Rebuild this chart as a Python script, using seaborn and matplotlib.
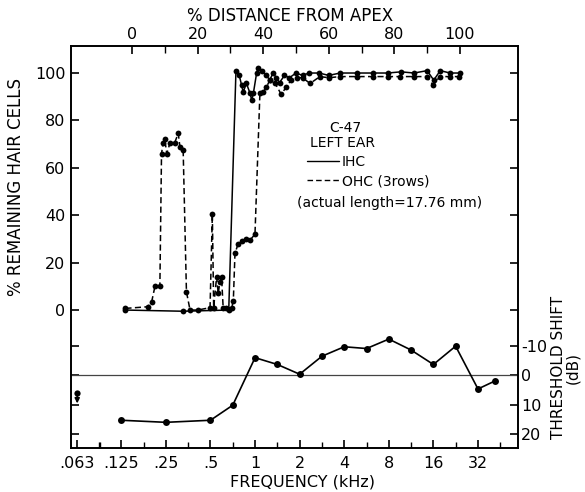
import matplotlib
matplotlib.use("Agg")
import matplotlib.pyplot as plt
from matplotlib.lines import Line2D
from matplotlib.ticker import FixedLocator, NullFormatter
import seaborn as sns
import pandas as pd

# ---- data ----
ihc_dist = [-2, 15.5, 29.5, 31.7, 32.7, 33.4, 33.9, 34.9, 36.0, 36.5, 37.0, 38.0, 38.5, 39.5,
            41, 42, 43, 44, 45, 46.5, 48, 50, 52, 54, 57, 60, 63.5, 68.5, 73.5, 78, 82, 86,
            90, 92, 94, 97, 100]
ihc_val = [0, -0.5, 0, 101, 99, 95, 92, 95.6, 91.4, 88.6, 91.4, 100, 102, 101,
           99, 97, 100, 98, 96, 99, 98, 100, 99, 100, 100, 99, 100, 100, 100, 100, 100.5, 100,
           101, 97, 101, 100, 100]

ohc_dist = [-2, 4.9, 6, 7, 8.5, 9, 9.5, 10, 10.6, 11.6, 13, 14.1, 14.6, 15.6, 16.6, 17.7, 20,
            23.8, 24.5, 24.9, 25.8, 26.3, 26.8, 27.3, 27.8, 28.8, 30.4, 30.9, 31.4, 32.4, 33.4,
            34.9, 36.0, 37.5, 39.0, 40, 41, 42, 43.5, 45.5, 47, 48.5, 50.2, 52, 54.3, 57.3, 60,
            63.4, 68.5, 73.5, 78, 81.7, 86, 89.8, 91.8, 93.9, 97, 99.7]
ohc_val = [0.7, 1.4, 3.5, 10, 10, 66, 70.5, 72, 66, 70.5, 70.5, 74.6, 69, 67.5, 7.7, 0, 0,
           1, 40.5, 1, 14, 7, 12, 14, 1, 1, 1, 4, 24, 28, 29,
           30, 29.5, 32, 91.4, 92, 94, 97, 96, 91, 94, 97, 98, 98, 95.6, 98.5, 98,
           98.5, 98.5, 98.5, 98.5, 98.5, 98.5, 98.5, 95, 98.5, 98.5, 98.5]

freq_khz = [0.125, 0.25, 0.5, 0.707, 1, 1.414, 2, 2.83, 4, 5.66, 8, 11.3, 16, 22.6, 32, 42]
shift_db = [15.3, 16, 15.3, 10.2, -5.9, -3.6, -0.3, -6.4, -9.6, -9, -12.2, -8.5, -3.6, -9.8, 4.7, 1.9]

low_freq = 0.063
low_shift_dot = 6.1
low_shift_arrow = 9.6

freq_ticks = [0.063, 0.125, 0.25, 0.5, 1, 2, 4, 8, 16, 32]
freq_labels = [".063", ".125", ".25", ".5", "1", "2", "4", "8", "16", "32"]
dist_ticks = [0, 20, 40, 60, 80, 100]
hair_ticks = [0, 20, 40, 60, 80, 100]
shift_ticks = [-10, 0, 10, 20]
shift_labels = ["-10", "0", "10", "20"]

# ---- style ----
sns.set_style("ticks")
plt.rcParams["font.family"] = ["DejaVu Sans"]
plt.rcParams["axes.linewidth"] = 1.4
for key in ["text.color", "axes.labelcolor", "xtick.color", "ytick.color",
            "xtick.labelcolor", "ytick.labelcolor", "axes.edgecolor"]:
    plt.rcParams[key] = "black"

fig = plt.figure(figsize=(5.85, 4.92), dpi=100)
rect = [71 / 585, 1 - 448 / 492, (518 - 71) / 585, (448 - 46) / 492]
ax = fig.add_axes(rect)                 # threshold: bottom x, right y
ax2 = fig.add_axes(rect, label="hair")  # hair cells: top x, left y
ax2.patch.set_visible(False)
for s in ax2.spines.values():
    s.set_visible(False)

# ---- threshold panel ----
ax.set_xscale("log", base=2)
ax.set_xlim(0.0572, 59.6)
ax.set_ylim(24.7, -111.5)
ax.axhline(0, color="#444444", lw=0.9, zorder=1)
thr = pd.DataFrame({"freq": freq_khz, "shift": shift_db})
sns.lineplot(data=thr, x="freq", y="shift", ax=ax, color="black", lw=1.2,
             marker="o", markersize=5, markeredgewidth=0, estimator=None, sort=False)
ax.plot([low_freq], [low_shift_dot], "o", color="black", ms=4.5, mew=0)
ax.annotate("", xy=(low_freq, low_shift_arrow), xytext=(low_freq, low_shift_dot),
            arrowprops=dict(arrowstyle="-|>", color="black", lw=1.2, mutation_scale=7,
                            shrinkA=0, shrinkB=0))

ax.xaxis.set_major_locator(FixedLocator(freq_ticks))
ax.set_xticklabels(freq_labels)
minor_f = [f * 1.41421356 for f in freq_ticks] + [0.088]
ax.xaxis.set_minor_locator(FixedLocator(minor_f))
ax.xaxis.set_minor_formatter(NullFormatter())
ax.set_yticks(shift_ticks)
ax.set_yticklabels(shift_labels)
ax.yaxis.set_minor_locator(FixedLocator([]))
ax.tick_params(axis="x", which="major", direction="in", length=6, width=1.2,
               bottom=True, top=False, labelbottom=True, labeltop=False, pad=6, labelsize=11.5)
ax.tick_params(axis="x", which="minor", direction="in", length=4, width=1.0,
               bottom=True, top=False)
ax.tick_params(axis="y", which="major", direction="in", length=6, width=1.2,
               left=True, right=True, labelleft=False, labelright=True, pad=2, labelsize=11.5)
ax.set_xlabel("FREQUENCY (kHz)", fontsize=11.5)
ax.xaxis.set_label_coords(0.517, -0.066)
ax.xaxis.label.set_verticalalignment("top")
ax.yaxis.set_label_position("right")
ax.set_ylabel("THRESHOLD SHIFT\n(dB)", fontsize=11, multialignment="center", linespacing=1.0)
ax.yaxis.set_label_coords(1.073, 0.2)
for s in ax.spines.values():
    s.set_visible(True)
    s.set_linewidth(1.4)
    s.set_color("black")

# ---- hair cell panel ----
ihc = pd.DataFrame({"dist": ihc_dist, "val": ihc_val})
ohc = pd.DataFrame({"dist": ohc_dist, "val": ohc_val})
sns.lineplot(data=ihc, x="dist", y="val", ax=ax2, color="black", lw=1.1,
             marker="o", markersize=4.2, markeredgewidth=0, estimator=None, sort=False)
sns.lineplot(data=ohc, x="dist", y="val", ax=ax2, color="black", lw=1.1,
             marker="o", markersize=4.2, markeredgewidth=0, estimator=None, sort=False,
             dashes=False, linestyle=(0, (4, 2.2)))
ax2.set_xlim(-18.6, 117.7)
ax2.set_ylim(-58.2, 111.4)
ax2.xaxis.set_label_position("top")
ax2.xaxis.tick_top()
ax2.set_xticks(dist_ticks)
ax2.xaxis.set_minor_locator(FixedLocator([10, 30, 50, 70, 90]))
ax2.set_yticks(hair_ticks)
ax2.yaxis.set_minor_locator(FixedLocator([]))
ax2.tick_params(axis="x", which="major", direction="in", length=6, width=1.2,
                top=True, bottom=False, labeltop=True, labelbottom=False, pad=3, labelsize=11.5)
ax2.tick_params(axis="x", which="minor", direction="in", length=5, width=1.0,
                top=True, bottom=False)
ax2.tick_params(axis="y", which="major", direction="in", length=6, width=1.2,
                left=True, right=True, labelleft=True, labelright=False, pad=4, labelsize=11.5)
ax2.set_xlabel("% DISTANCE FROM APEX", fontsize=12)
ax2.xaxis.set_label_coords(0.49, 1.062)
ax2.set_ylabel("% REMAINING HAIR CELLS", fontsize=12)
ax2.yaxis.set_label_coords(-0.103, 0.649)

# legend / annotation block
ax2.text(0.613, 0.796, "C-47", transform=ax2.transAxes, fontsize=10, ha="center", va="center")
ax2.text(0.535, 0.759, "LEFT EAR", transform=ax2.transAxes, fontsize=10, ha="left", va="center")
handles = [Line2D([], [], color="black", lw=1.0),
           Line2D([], [], color="black", lw=1.0, linestyle=(0, (4, 2.2)))]
ax2.legend(handles, ["IHC", "OHC (3rows)"], loc="upper left", bbox_to_anchor=(0.528, 0.728),
           frameon=False, fontsize=10, handlelength=2.3, handletextpad=0.2,
           labelspacing=0.35, borderpad=0, borderaxespad=0, labelcolor="black")
ax2.text(0.506, 0.609, "(actual length=17.76 mm)", transform=ax2.transAxes, fontsize=10,
         ha="left", va="center")

fig.savefig("out.png", dpi=100)
